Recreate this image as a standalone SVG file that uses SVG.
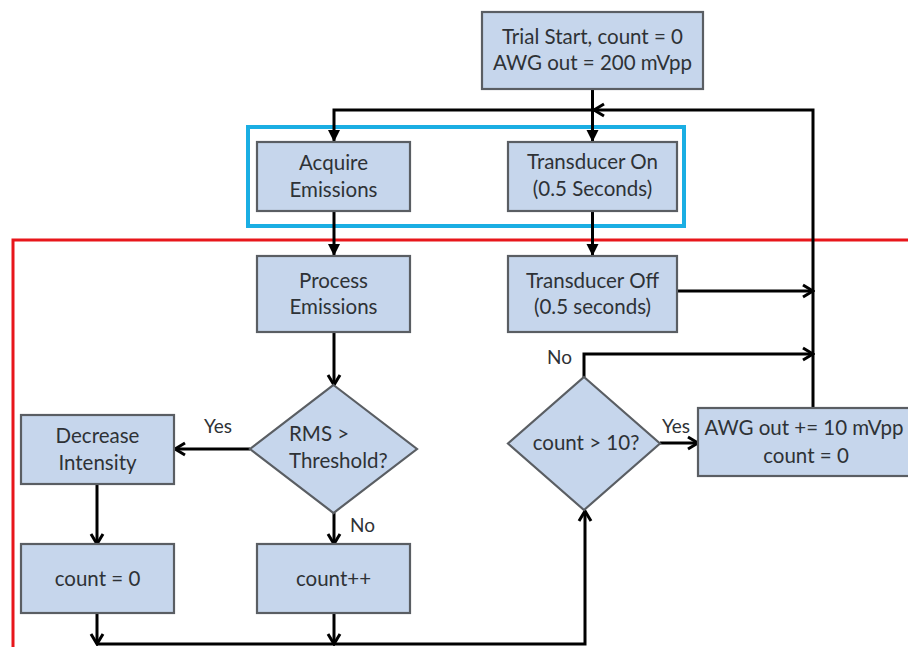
<svg xmlns="http://www.w3.org/2000/svg" width="908" height="647" viewBox="0 0 908 647">
<defs>
<style>
.box{fill:#C6D6EC;stroke:#5A5E63;stroke-width:2.2}
.t{font-family:Lato,"Liberation Sans",sans-serif;font-size:20.5px;fill:#2E3236;text-anchor:middle}
.lbl{font-family:Lato,"Liberation Sans",sans-serif;font-size:19px;fill:#2E3236}
.c{fill:none;stroke:#000;stroke-width:3}
</style>
<marker id="open" markerUnits="userSpaceOnUse" viewBox="0 0 16 16" refX="14" refY="8" markerWidth="16" markerHeight="16" orient="auto">
<path d="M4,2 L14,8 L4,14" fill="none" stroke="#000" stroke-width="3"/>
</marker>
<marker id="fill" markerUnits="userSpaceOnUse" viewBox="0 0 14 14" refX="13" refY="7" markerWidth="14" markerHeight="14" orient="auto">
<path d="M1,1 L13,7 L1,13 Z" fill="#000"/>
</marker>
</defs>
<rect width="908" height="647" fill="#fff"/>
<rect id="group-blue" x="248" y="127" width="436" height="99" fill="none" stroke="#1AAEE3" stroke-width="4"/>
<path id="group-red" d="M13,647 L13,240 L910,240" fill="none" stroke="#E8161B" stroke-width="3"/>
<g id="connectors">
<path class="c" d="M592.5,89 V142" marker-end="url(#fill)"/>
<path class="c" d="M592.5,110 H334 V142" marker-end="url(#fill)"/>
<path class="c" d="M813,408 V110 H594" marker-end="url(#open)"/>
<path class="c" d="M334,211 V256" marker-end="url(#fill)"/>
<path class="c" d="M592.5,211 V256" marker-end="url(#fill)"/>
<path class="c" d="M677,291 H813" marker-end="url(#open)"/>
<path class="c" d="M334,332 V385" marker-end="url(#open)"/>
<path class="c" d="M250,449 H175" marker-end="url(#open)"/>
<path class="c" d="M97,484 V544" marker-end="url(#open)"/>
<path class="c" d="M334,513 V544" marker-end="url(#open)"/>
<path class="c" d="M97,613 V644" marker-end="url(#open)"/>
<path class="c" d="M334,613 V644" marker-end="url(#open)"/>
<path class="c" d="M97,644 H585 V511" marker-end="url(#open)"/>
<path class="c" d="M584,377 V354 H813" marker-end="url(#open)"/>
<path class="c" d="M660,443 H698" marker-end="url(#open)"/>
</g>
<g id="trial-start"><rect class="box" x="482" y="12" width="221" height="77"/><text class="t" x="592.5" y="44">Trial Start, count = 0</text><text class="t" x="592.5" y="70">AWG out = 200 mVpp</text></g>
<g id="acquire"><rect class="box" x="257" y="142" width="153" height="69"/><text class="t" x="333.5" y="170">Acquire</text><text class="t" x="333.5" y="197">Emissions</text></g>
<g id="transducer-on"><rect class="box" x="508" y="142" width="169" height="69"/><text class="t" x="592.5" y="169">Transducer On</text><text class="t" x="592.5" y="196">(0.5 Seconds)</text></g>
<g id="process"><rect class="box" x="257" y="256" width="153" height="76"/><text class="t" x="333.5" y="288">Process</text><text class="t" x="333.5" y="314">Emissions</text></g>
<g id="transducer-off"><rect class="box" x="508" y="256" width="169" height="76"/><text class="t" x="592.5" y="288">Transducer Off</text><text class="t" x="592.5" y="314">(0.5 seconds)</text></g>
<g id="rms"><polygon class="box" points="333.5,385 417,449 333.5,513 250,449"/><text class="t" x="289" y="441" style="text-anchor:start">RMS &gt;</text><text class="t" x="289" y="468" style="text-anchor:start">Threshold?</text></g>
<g id="decrease"><rect class="box" x="21" y="415" width="153" height="69"/><text class="t" x="97.5" y="443">Decrease</text><text class="t" x="97.5" y="470">Intensity</text></g>
<g id="count0"><rect class="box" x="21" y="544" width="153" height="69"/><text class="t" x="97.5" y="586">count = 0</text></g>
<g id="countpp"><rect class="box" x="257" y="544" width="153" height="69"/><text class="t" x="333.5" y="586">count++</text></g>
<g id="count10"><polygon class="box" points="584,377 660,443.5 584,510 508,443.5"/><text class="t" x="586" y="450">count &gt; 10?</text></g>
<g id="awg"><rect class="box" x="698" y="408" width="222" height="68"/><text class="t" x="804" y="435">AWG out += 10 mVpp</text><text class="t" x="806" y="463">count = 0</text></g>
<g id="labels">
<text class="lbl" x="204" y="433">Yes</text>
<text class="lbl" x="350" y="532">No</text>
<text class="lbl" x="547" y="364">No</text>
<text class="lbl" x="662" y="433">Yes</text>
</g>
</svg>
